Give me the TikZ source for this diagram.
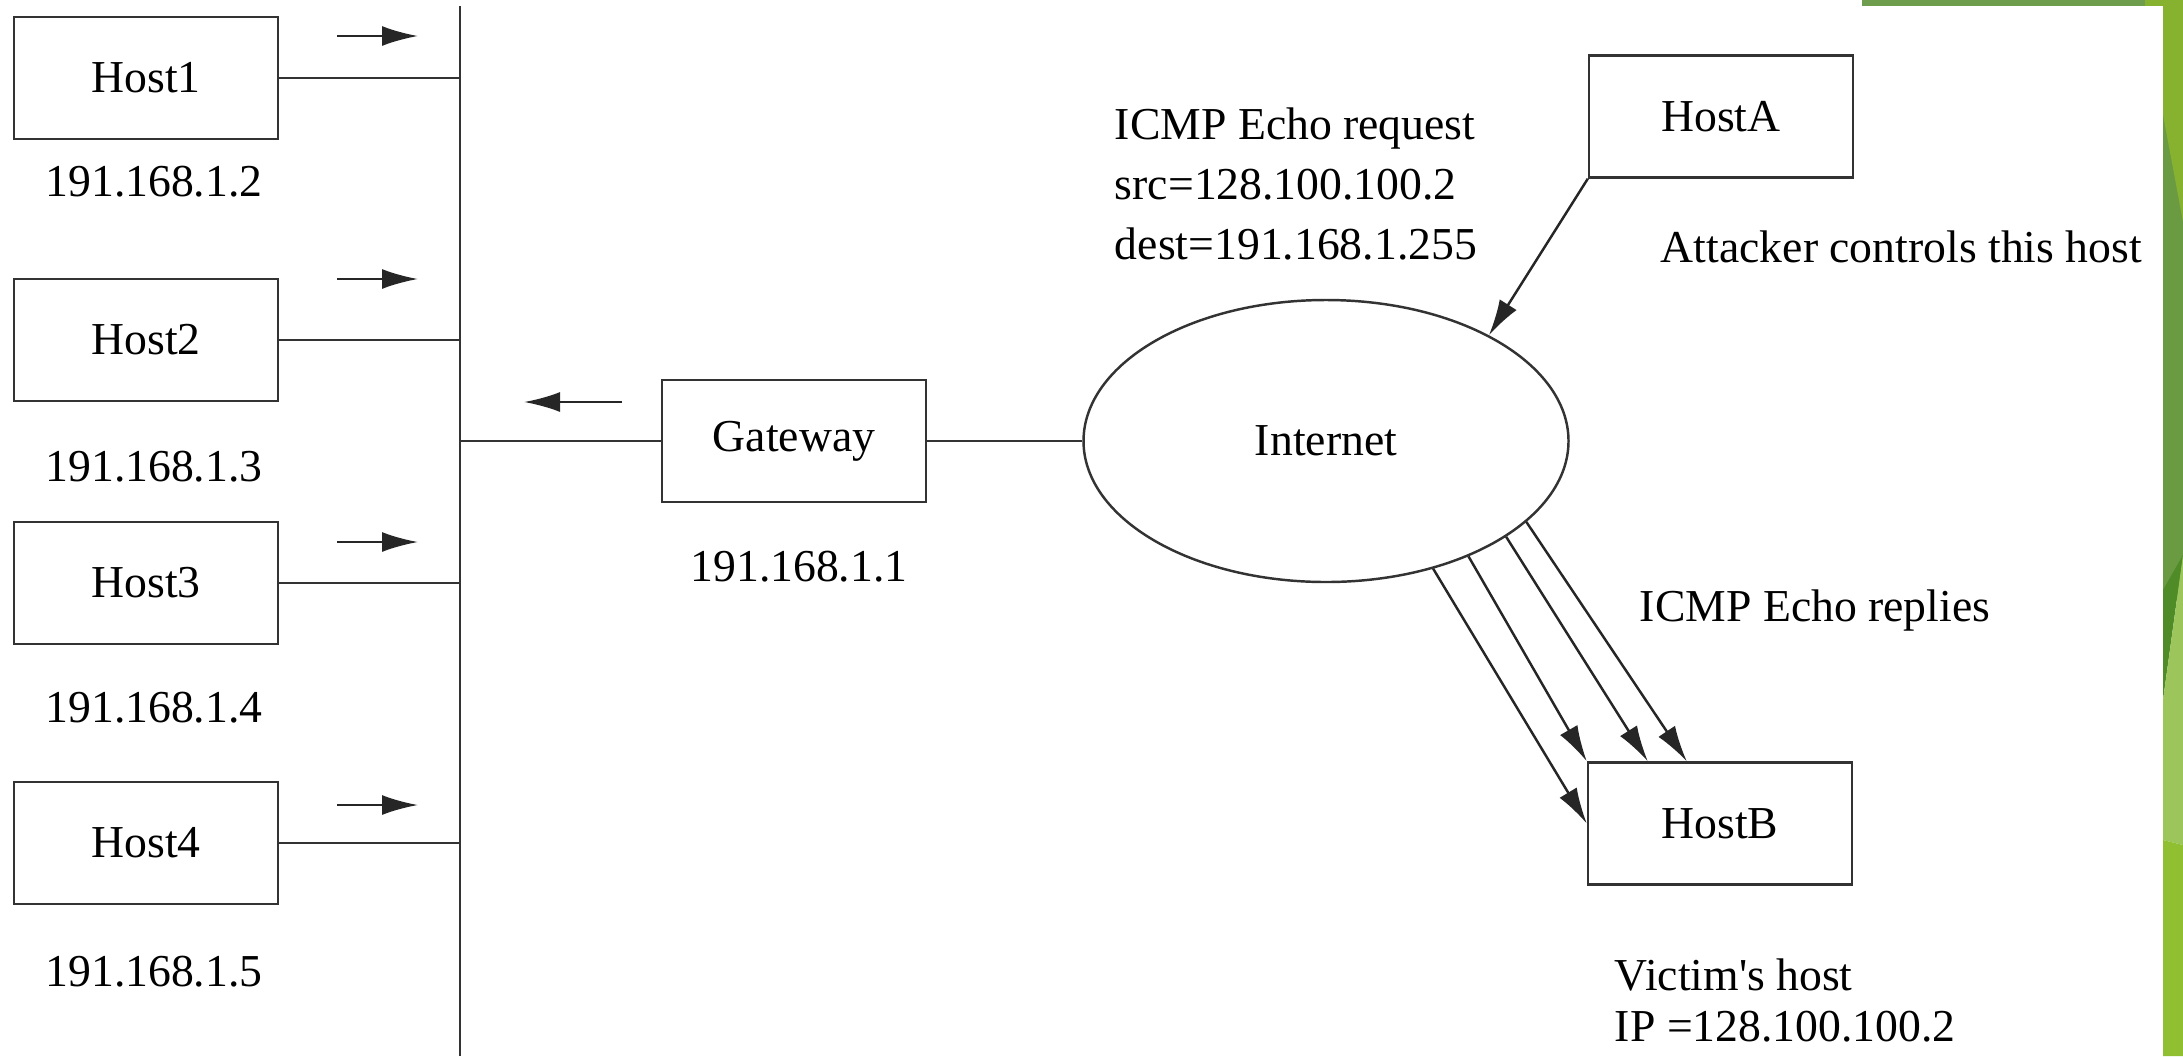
\documentclass[tikz,border=0pt]{standalone}
\usepackage{fontspec}
\setmainfont{Liberation Serif}
\usetikzlibrary{shapes.geometric,arrows.meta}
\definecolor{facetdark}{HTML}{6A9A42}
\definecolor{facetdeep}{HTML}{4F8B27}
\definecolor{facetlime}{HTML}{86B22F}
\definecolor{facetlight}{HTML}{9CC65C}
\definecolor{facetgrass}{HTML}{90C032}
\definecolor{facettop}{HTML}{6E9D4D}

\begin{document}
\begin{tikzpicture}[y=-1cm,font=\fontsize{13}{17}\selectfont,line width=0.7pt]
    \tikzstyle{hostbox}=[rectangle,draw=black!80,fill=white,minimum width=2.64cm,minimum height=1.22cm,inner sep=0pt]
    \tikzstyle{wire}=[draw=black!80]
    \tikzstyle{flow}=[draw=black!85,-{Latex[length=0.36cm,width=0.2cm]}]
    \useasboundingbox (0,0) rectangle (21.83,10.56);

    % slide border on the right
    \fill[facetdark] (21.63,0) rectangle (21.83,6.0);
    \fill[facetlime] (21.63,0) -- (21.83,0) -- (21.83,2.22) -- (21.63,1.15) -- cycle;
    \fill[facetdeep] (21.63,5.9) -- (21.83,5.55) -- (21.63,7.0) -- cycle;
    \fill[facetlight] (21.63,7.0) -- (21.83,5.55) -- (21.83,8.45) -- (21.63,8.4) -- cycle;
    \fill[facetgrass] (21.63,8.4) -- (21.83,8.45) -- (21.83,10.56) -- (21.63,10.56) -- cycle;
    \fill[facettop] (18.62,0) rectangle (21.45,0.06);
    \fill[facetlime] (21.45,0) rectangle (21.83,0.06);

    % LAN bus
    \coordinate (bustop) at (4.60,0.06);
    \coordinate (busbot) at (4.60,10.56);
    \draw[wire] (bustop) -- (busbot);

    \foreach \num/\y/\ip/\iy/\ay in {1/0.78/2/1.82/0.36, 2/3.40/3/4.67/2.79, 3/5.83/4/7.08/5.42, 4/8.43/5/9.72/8.05} {
        \node[hostbox] (H-\num) at (1.46,\y) {Host\num};
        \node (ip-\num) at (1.54,\iy) {191.168.1.\ip};
        \draw[wire] (H-\num.east) -- (H-\num.east -| bustop);
        \coordinate (a-\num) at (3.37,\ay);
        \coordinate (b-\num) at (4.18,\ay);
        \draw[flow] (a-\num) -- (b-\num);
    }

    % gateway and internet
    \node[hostbox] (gw) at (7.94,4.41) {Gateway};
    \node (ip-gw) at (7.99,5.67) {191.168.1.1};
    \node[ellipse,draw=black!80,minimum width=4.85cm,minimum height=2.82cm,inner sep=0pt] (inet) at (13.26,4.41) {Internet};
    \draw[wire] (gw.west) -- (gw.west -| bustop);
    \draw[wire] (gw.east) -- (inet.west);
    \coordinate (a-gw) at (6.22,4.02);
    \coordinate (b-gw) at (5.24,4.02);
    \draw[flow] (a-gw) -- (b-gw);

    % attacker and victim
    \node[hostbox] (hostA) at (17.21,1.165) {HostA};
    \node[hostbox] (hostB) at (17.20,8.235) {HostB};
    \node[anchor=west,align=left] (req) at (11.02,1.84) {ICMP Echo request\\src=128.100.100.2\\dest=191.168.1.255};
    \node[anchor=west] (att) at (16.48,2.47) {Attacker controls this host};
    \node[anchor=west] (rep) at (16.27,6.10) {ICMP Echo replies};
    \node[anchor=west,align=left,font=\fontsize{13}{14.5}\selectfont] (vic) at (16.02,10.0) {Victim\textquotesingle s host\\IP =128.100.100.2};

    \draw[flow] (hostA.south west) -- (inet.33);
    \draw[flow] (inet.-50) -- (hostB.west);
    \draw[flow] (inet.-39) -- (hostB.north west);
    \draw[flow] (inet.-28) -- ([xshift=0.61cm]hostB.north west);
    \draw[flow] (inet.-22) -- ([xshift=1.0cm]hostB.north west);
\end{tikzpicture}
\end{document}
